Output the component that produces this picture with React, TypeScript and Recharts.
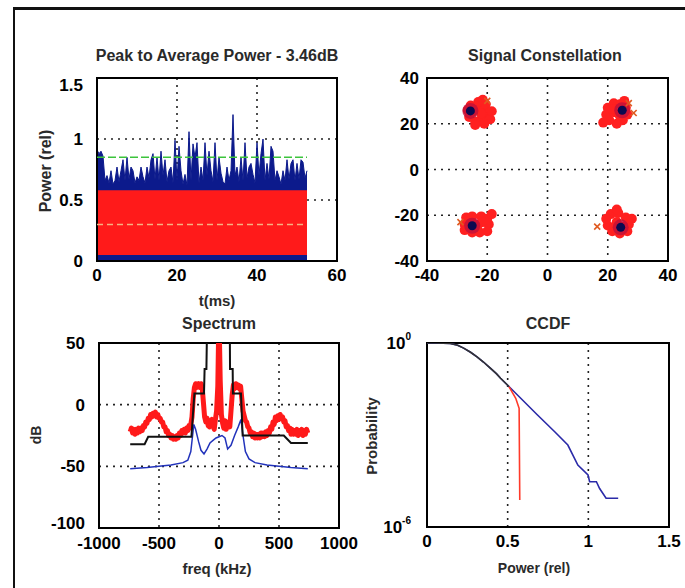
import React from "react";
import {
  ComposedChart,
  LineChart,
  ScatterChart,
  Area,
  Line,
  Scatter,
  XAxis,
  YAxis,
  CartesianGrid,
  ReferenceArea,
} from "recharts";

// ---- Peak to average power (time trace) ----
const PAPR_T = [
  0, 0.5, 1, 1.5, 2, 2.5, 3, 3.5, 4, 4.5, 5, 5.5, 6, 6.5, 7, 7.5, 8, 8.5, 9, 9.5,
  10, 10.5, 11, 11.5, 12, 12.5, 13, 13.5, 14, 14.5, 15, 15.5, 16, 16.5, 17, 17.5, 18, 18.5, 19, 19.5,
  20, 20.5, 21, 21.5, 22, 22.5, 23, 23.5, 24, 24.5, 25, 25.5, 26, 26.5, 27, 27.5, 28, 28.5, 29, 29.5,
  30, 30.5, 31, 31.5, 32, 32.5, 33, 33.5, 34, 34.5, 35, 35.5, 36, 36.5, 37, 37.5, 38, 38.5, 39, 39.5,
  40, 40.5, 41, 41.5, 42, 42.5, 43, 43.5, 44, 44.5, 45, 45.5, 46, 46.5, 47, 47.5, 48, 48.5, 49, 49.5,
  50, 50.5, 51, 51.5, 52, 52.5,
];
const PAPR_PEAK = [
  0.91, 0.88, 0.9, 0.86, 0.66, 0.7, 0.64, 0.74, 0.63, 0.66,
  0.77, 0.65, 0.74, 0.83, 0.66, 0.85, 0.67, 0.77, 0.74, 0.64,
  0.69, 0.66, 0.77, 0.69, 0.64, 0.77, 0.68, 0.83, 0.88, 0.67,
  0.85, 0.66, 0.9, 0.7, 0.83, 0.65, 0.74, 0.77, 0.64, 0.99,
  0.66, 0.94, 0.74, 0.63, 0.71, 0.62, 1.06, 0.66, 0.96, 0.85,
  0.97, 0.64, 0.77, 0.66, 0.97, 0.7, 0.9, 0.74, 0.65, 0.97,
  0.66, 0.85, 0.72, 0.65, 0.63, 0.77, 0.66, 0.74, 1.2, 0.7,
  0.77, 0.65, 0.85, 0.66, 0.97, 0.68, 0.77, 0.8, 0.71, 0.64,
  0.97, 0.7, 0.88, 1.0, 0.66, 0.8, 0.67, 0.94, 0.9, 0.66,
  0.74, 0.69, 0.63, 0.74, 0.66, 0.83, 0.67, 0.8, 0.83, 0.66,
  0.8, 0.67, 0.83, 0.81, 0.68, 0.74,
];
const CLIP_LOW = 0.05;
const CLIP_HIGH = 0.58;
const PEAK_LEVEL = 0.85;
const MEAN_LEVEL = 0.3;

// ---- Constellation ----
const CONST_RED = [
  { x: -25, y: 25 }, { x: -23, y: 27 }, { x: -21, y: 26 }, { x: -20, y: 24 }, { x: -22, y: 22 },
  { x: -24, y: 21 }, { x: -26, y: 23 }, { x: -25.5, y: 28 }, { x: -23, y: 29.5 }, { x: -20.5, y: 28.5 },
  { x: -19, y: 22 }, { x: -21, y: 20 }, { x: -24, y: 19.5 }, { x: -26.5, y: 26 }, { x: -22, y: 24.5 },
  { x: -18.5, y: 25.5 }, { x: -21.5, y: 30.5 },
  { x: 20, y: 27 }, { x: 22, y: 29 }, { x: 24, y: 28.5 }, { x: 26, y: 27 }, { x: 26.5, y: 24 },
  { x: 25, y: 21.5 }, { x: 23, y: 20 }, { x: 20.5, y: 21.5 }, { x: 19.5, y: 24 }, { x: 22, y: 25 },
  { x: 24, y: 23.5 }, { x: 21.5, y: 26.5 }, { x: 25.5, y: 30 }, { x: 18.5, y: 20.5 },
  { x: -27, y: -21 }, { x: -25, y: -20.5 }, { x: -22, y: -20.5 }, { x: -20, y: -21.5 }, { x: -19.5, y: -24 },
  { x: -20, y: -27 }, { x: -22.5, y: -27.5 }, { x: -25, y: -27.5 }, { x: -27.5, y: -26.5 }, { x: -27.5, y: -24 },
  { x: -23, y: -24 }, { x: -25, y: -23.5 }, { x: -21.5, y: -23 }, { x: -18.5, y: -19.5 },
  { x: 21, y: -19.5 }, { x: 23.5, y: -19 }, { x: 26, y: -21 }, { x: 27, y: -24 }, { x: 26.5, y: -27 },
  { x: 24, y: -28 }, { x: 21.5, y: -27 }, { x: 20, y: -24.5 }, { x: 19.5, y: -21.5 }, { x: 23, y: -23 },
  { x: 25, y: -25 }, { x: 22, y: -25.5 }, { x: 28, y: -21.5 }, { x: 23, y: -17.5 },
];
const CONST_IDEAL = [
  { x: -25.6, y: 25.6 },
  { x: 24.8, y: 25.9 },
  { x: -25, y: -24.6 },
  { x: 24.3, y: -25.3 },
];
const CONST_OUTLIERS = [
  { x: -20, y: 30 },
  { x: 27, y: 29 },
  { x: 28.6, y: 24.7 },
  { x: 16.5, y: -25 },
  { x: -28.9, y: -23 },
];

// ---- Spectrum ----
const SPEC_RED = [
  [-740, -22], [-730, -19], [-720, -23], [-710, -20], [-700, -24], [-690, -20], [-680, -23], [-670, -19],
  [-660, -22], [-650, -19], [-640, -21], [-630, -17], [-620, -18], [-610, -14], [-600, -15], [-590, -11],
  [-580, -12], [-570, -8], [-560, -10], [-550, -7], [-540, -9], [-530, -6], [-520, -10], [-510, -8],
  [-500, -11], [-490, -11], [-480, -14], [-470, -14], [-460, -18], [-450, -18], [-440, -22], [-430, -21],
  [-420, -25], [-410, -24], [-400, -27], [-390, -25], [-380, -28], [-370, -26], [-360, -28], [-350, -25],
  [-340, -27], [-330, -23], [-320, -25], [-310, -21], [-300, -23], [-290, -20], [-280, -23], [-270, -19],
  [-260, -21], [-250, -17], [-240, -19], [-225, -10], [-215, 5], [-205, 14], [-195, 17], [-185, 14],
  [-170, 17], [-160, 14], [-150, 17], [-140, 14], [-130, 2], [-120, -10], [-110, -14], [-100, -11],
  [-90, -17], [-80, -18], [-70, -13], [-60, -12], [-50, -17], [-40, -20], [-30, -12], [-20, -5],
  [-10, 15], [-4, 52], [4, 52], [10, 20], [20, -8], [30, -15], [40, -19], [50, -13],
  [60, -20], [70, -16], [80, -14], [90, -18], [100, -5], [110, 8], [120, 16], [130, 13],
  [140, 17], [150, 14], [160, 16], [170, 13], [180, 15], [190, 5], [200, -5], [210, -9],
  [220, -13], [230, -14], [240, -18], [250, -19], [260, -23], [270, -22], [280, -26], [290, -23],
  [300, -27], [310, -24], [320, -27], [330, -24], [340, -27], [350, -23], [360, -26], [370, -23],
  [380, -26], [390, -22], [400, -25], [410, -21], [420, -23], [430, -18], [440, -20], [450, -14],
  [460, -16], [470, -10], [480, -13], [490, -9], [500, -12], [510, -8], [520, -11], [530, -10],
  [540, -14], [550, -13], [560, -18], [570, -17], [580, -21], [590, -19], [600, -24], [610, -20],
  [620, -24], [630, -21], [640, -24], [650, -20], [660, -25], [670, -21], [680, -24], [690, -20],
  [700, -25], [710, -21], [720, -24], [730, -20], [740, -23],
];
const SPEC_MASK = [
  [-740, -32], [-620, -32], [-590, -26], [-230, -26], [-205, 9], [-125, 9], [-120, 29], [-105, 29],
  [-100, 60], [90, 60], [92, 29], [114, 29], [116, 9], [183, 9], [197, -25], [540, -25],
  [600, -31], [740, -31],
];
const SPEC_BLUE = [
  [-740, -52], [-600, -51], [-500, -50], [-400, -49], [-300, -47], [-260, -45], [-235, -38], [-220, -25],
  [-210, -16], [-195, -20], [-170, -30], [-150, -37], [-125, -40], [-100, -36], [-75, -31], [-50, -29],
  [-25, -27], [0, -26], [25, -25], [50, -27], [72, -36], [100, -33], [130, -25], [160, -18],
  [183, -12], [200, -25], [220, -38], [250, -44], [300, -47], [400, -49], [500, -50], [600, -51],
  [740, -52],
];

// ---- CCDF ----
const CCDF_POWER = [
  0, 0.05, 0.1, 0.144, 0.19, 0.227, 0.27, 0.31, 0.35, 0.394, 0.43, 0.456, 0.508,
  0.581, 0.685, 0.79, 0.873, 0.935, 0.998, 1.008, 1.05, 1.07, 1.11, 1.185,
];
const CCDF_PROB = [
  1, 1, 0.99, 0.96, 0.85, 0.68, 0.5, 0.355, 0.24, 0.148, 0.1, 0.071, 0.038,
  0.0158, 0.0045, 0.0013, 0.00047, 0.000105, 0.00005, 0.00003, 0.00003, 0.000018, 0.0000087, 0.0000087,
];
const CCDF_CLIP_POWER = [0.508, 0.55, 0.571, 0.575];
const CCDF_CLIP_PROB = [0.038, 0.0158, 0.0074, 0.0000076];

const TICK_FONT = "'Liberation Sans Narrow', 'Liberation Sans', Arial, sans-serif";
const LABEL_FONT = "'Liberation Sans', Arial, sans-serif";
const tickStyle = { fontSize: 17, fontWeight: 700, fill: "#000", fontFamily: TICK_FONT };
const GRID = { stroke: "#222", strokeDasharray: "2 5", strokeWidth: 1.6 };

const paprData = PAPR_T.map((t, i) => ({ t, peak: PAPR_PEAK[i] }));
const toXY = (rows: number[][]) => rows.map(([f, db]) => ({ f, db }));
const ccdfData = CCDF_POWER.map((p, i) => ({ p, prob: CCDF_PROB[i] }));
const ccdfClip = CCDF_CLIP_POWER.map((p, i) => ({ p, prob: CCDF_CLIP_PROB[i] }));
const ccdfHead = ccdfData.filter((d) => d.p <= 0.508);

function Txt({ x, y, children, size = 14, rotate = 0, color = "#2a2a2a" }: any) {
  return (
    <div
      style={{
        position: "absolute",
        left: x,
        top: y,
        transform: `translate(-50%, -50%) rotate(${rotate}deg)`,
        fontFamily: LABEL_FONT,
        fontSize: size,
        fontWeight: 700,
        color,
        whiteSpace: "nowrap",
        lineHeight: 1,
      }}
    >
      {children}
    </div>
  );
}

function Frame({ x, y }: { x: number[]; y: number[] }) {
  return (
    <ReferenceArea
      x1={x[0]}
      x2={x[1]}
      y1={y[0]}
      y2={y[1]}
      fill="none"
      stroke="#000"
      strokeWidth={2}
      ifOverflow="visible"
    />
  );
}

// y tick that nudges the edge labels inward, as matlab does
const makeYTick = (top: number, bottom: number) => ({ x, y, payload }: any) => {
  let dy = 6;
  if (payload.value === top) dy += 7;
  if (payload.value === bottom) dy -= 5;
  return (
    <text x={x - 6} y={y + dy} textAnchor="end" style={tickStyle as any}>
      {payload.value}
    </text>
  );
};
const PaprYTick = makeYTick(1.5, -999);
const SpecYTick = makeYTick(-999, -100);

const LogTick = ({ x, y, payload }: any) => {
  const exp = Math.round(Math.log10(payload.value));
  return (
    <text x={x - 8} y={y + 6} textAnchor="end" style={tickStyle as any}>
      <tspan>10</tspan>
      <tspan dy={-9} fontSize={10}>{exp}</tspan>
    </text>
  );
};

const RedDot = (p: any) => <circle cx={p.cx} cy={p.cy} r={5} fill="#ff2020" />;
const IdealDot = (p: any) => (
  <g>
    <circle cx={p.cx} cy={p.cy} r={8} fill="#c0103a" opacity={0.8} />
    <circle cx={p.cx} cy={p.cy} r={4.5} fill="#0a0a50" />
  </g>
);
const XMark = (p: any) => (
  <g stroke="#e05a20" strokeWidth={1.6}>
    <line x1={p.cx - 3} y1={p.cy - 3} x2={p.cx + 3} y2={p.cy + 3} />
    <line x1={p.cx - 3} y1={p.cy + 3} x2={p.cx + 3} y2={p.cy - 3} />
  </g>
);

export default function App() {
  return (
    <div style={{ position: "absolute", left: 0, top: 0, width: 685, height: 588, background: "#fff", overflow: "hidden" }}>
      <div style={{ position: "absolute", left: 13, top: 7, width: 700, height: 600, borderTop: "3px solid #111", borderLeft: "2px solid #111" }} />

      {/* Peak to average power */}
      <div style={{ position: "absolute", left: 0, top: 40 }}>
        <ComposedChart width={360} height={300} data={paprData} margin={{ top: 38, right: 23, bottom: 49, left: 47 }}>
          <CartesianGrid {...GRID} />
          <XAxis dataKey="t" type="number" domain={[0, 60]} ticks={[0, 20, 40, 60]} height={30} axisLine={false} tickLine={false} tick={tickStyle} tickMargin={2} />
          <YAxis type="number" domain={[0, 1.5]} ticks={[0, 0.5, 1, 1.5]} width={50} axisLine={false} tickLine={false} tick={<PaprYTick />} />
          <Area dataKey="peak" type="linear" stroke="#0c1a8c" strokeWidth={1} fill="#0c1a8c" fillOpacity={1} isAnimationActive={false} />
          <Area dataKey={() => [CLIP_LOW, CLIP_HIGH]} type="linear" stroke="none" fill="#ff1a1a" fillOpacity={1} isAnimationActive={false} />
          <Line dataKey={() => PEAK_LEVEL} stroke="#3cc43c" strokeWidth={1.5} strokeDasharray="8 3" dot={false} isAnimationActive={false} />
          <Line dataKey={() => MEAN_LEVEL} stroke="#f6b080" strokeWidth={1.5} strokeDasharray="6 4" dot={false} isAnimationActive={false} />
          <Frame x={[0, 60]} y={[0, 1.5]} />
        </ComposedChart>
      </div>

      {/* Constellation */}
      <div style={{ position: "absolute", left: 360, top: 40 }}>
        <ScatterChart width={325} height={300} margin={{ top: 38, right: 17, bottom: 49, left: 17 }}>
          <CartesianGrid {...GRID} />
          <XAxis dataKey="x" type="number" domain={[-40, 40]} ticks={[-40, -20, 0, 20, 40]} height={30} axisLine={false} tickLine={false} tick={tickStyle} tickMargin={2} />
          <YAxis dataKey="y" type="number" domain={[-40, 40]} ticks={[-40, -20, 0, 20, 40]} width={50} axisLine={false} tickLine={false} tick={tickStyle} tickMargin={2} />
          <Scatter data={CONST_RED} shape={RedDot} isAnimationActive={false} />
          <Scatter data={CONST_IDEAL} shape={IdealDot} isAnimationActive={false} />
          <Scatter data={CONST_OUTLIERS} shape={XMark} isAnimationActive={false} />
          <Frame x={[-40, 40]} y={[-40, 40]} />
        </ScatterChart>
      </div>

      {/* Spectrum */}
      <div style={{ position: "absolute", left: 0, top: 310 }}>
        <LineChart width={360} height={270} margin={{ top: 33, right: 21, bottom: 22, left: 49 }}>
          <CartesianGrid {...GRID} />
          <XAxis dataKey="f" type="number" domain={[-1000, 1000]} ticks={[-1000, -500, 0, 500, 1000]} height={30} axisLine={false} tickLine={false} tick={tickStyle} tickMargin={3} />
          <YAxis type="number" domain={[-100, 50]} ticks={[-100, -50, 0, 50]} allowDataOverflow width={50} axisLine={false} tickLine={false} tick={<SpecYTick />} />
          <Line data={toXY(SPEC_RED)} dataKey="db" stroke="#ff1a1a" strokeWidth={5} strokeLinejoin="round" dot={false} isAnimationActive={false} />
          <Line data={toXY(SPEC_BLUE)} dataKey="db" stroke="#2233bb" strokeWidth={1.5} dot={false} isAnimationActive={false} />
          <Line data={toXY(SPEC_MASK)} dataKey="db" stroke="#111" strokeWidth={2} dot={false} isAnimationActive={false} />
          <Frame x={[-1000, 1000]} y={[-100, 50]} />
        </LineChart>
      </div>

      {/* CCDF */}
      <div style={{ position: "absolute", left: 360, top: 310 }}>
        <LineChart width={325} height={270} margin={{ top: 33, right: 16, bottom: 23, left: 17 }}>
          <CartesianGrid {...GRID} horizontal={false} />
          <XAxis dataKey="p" type="number" domain={[0, 1.5]} ticks={[0, 0.5, 1, 1.5]} height={30} axisLine={false} tickLine={false} tick={tickStyle} tickMargin={2} />
          <YAxis dataKey="prob" scale="log" domain={[1e-6, 1]} ticks={[1e-6, 1]} allowDataOverflow width={50} axisLine={false} tickLine={false} tick={<LogTick />} />
          <Line data={ccdfData} dataKey="prob" stroke="#2a2aa8" strokeWidth={1.6} dot={false} isAnimationActive={false} />
          <Line data={ccdfClip} dataKey="prob" stroke="#ff3a2a" strokeWidth={1.6} dot={false} isAnimationActive={false} />
          <Line data={ccdfHead} dataKey="prob" stroke="#333" strokeWidth={1.6} dot={false} isAnimationActive={false} />
          <Frame x={[0, 1.5]} y={[1e-6, 1]} />
        </LineChart>
      </div>

      <Txt x={217} y={56} size={16}>Peak to Average Power - 3.46dB</Txt>
      <Txt x={545} y={56} size={16}>Signal Constellation</Txt>
      <Txt x={219} y={324} size={16}>Spectrum</Txt>
      <Txt x={548} y={324} size={16}>CCDF</Txt>
      <Txt x={46} y={171} rotate={-90} size={16}>Power (rel)</Txt>
      <Txt x={217} y={300} size={15}>t(ms)</Txt>
      <Txt x={36} y={435} rotate={-90} size={14}>dB</Txt>
      <Txt x={217} y={568} size={15}>freq (kHz)</Txt>
      <Txt x={371} y={436} rotate={-90} size={15}>Probability</Txt>
      <Txt x={534} y={568} size={14}>Power (rel)</Txt>
    </div>
  );
}
